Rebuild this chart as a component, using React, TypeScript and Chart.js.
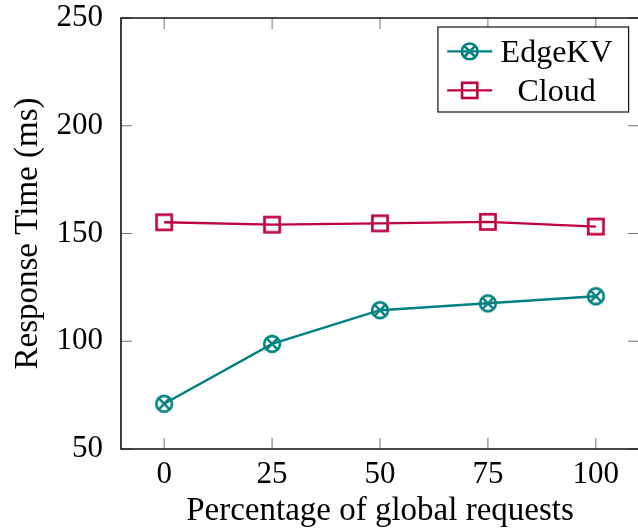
import React, { useEffect, useRef } from "react";
import { Chart, registerables } from "chart.js";

Chart.register(...registerables);

// Response time measurements (ms) against share of global requests (%)
const requestShares = [0, 25, 50, 75, 100];
const edgeKvMs = [71.0, 98.8, 114.4, 117.6, 120.9];
const cloudMs = [155.2, 154.1, 154.7, 155.4, 153.2];
const xTickValues = [0, 25, 50, 75, 100];
const yTickValues = [50, 100, 150, 200, 250];
const seriesNames = ["EdgeKV", "Cloud"];

const TEAL = "rgb(0,128,128)";
const PURPLE = "rgb(191,0,64)";
const SERIF = "'Liberation Serif', 'Times New Roman', serif";
const CANVAS_W = 660;
const CANVAS_H = 531;

type MarkerKind = "otimes" | "square";

function drawMarker(ctx: CanvasRenderingContext2D, kind: MarkerKind, x: number, y: number, color: string) {
  ctx.save();
  ctx.strokeStyle = color;
  ctx.lineWidth = 2.6;
  if (kind === "otimes") {
    const r = 7.9;
    ctx.beginPath();
    ctx.arc(x, y, r, 0, Math.PI * 2);
    ctx.stroke();
    const d = r * Math.SQRT1_2;
    ctx.beginPath();
    ctx.moveTo(x - d, y - d);
    ctx.lineTo(x + d, y + d);
    ctx.moveTo(x + d, y - d);
    ctx.lineTo(x - d, y + d);
    ctx.stroke();
  } else {
    const h = 7.6;
    ctx.strokeRect(x - h, y - h, 2 * h, 2 * h);
  }
  ctx.restore();
}

function markerImage(kind: MarkerKind, color: string): HTMLCanvasElement {
  const c = document.createElement("canvas");
  c.width = 24;
  c.height = 24;
  const ctx = c.getContext("2d")!;
  drawMarker(ctx, kind, 12, 12, color);
  return c;
}

function zeroScalePadding(s: any) {
  s.paddingLeft = 0;
  s.paddingRight = 0;
  s.paddingTop = 0;
  s.paddingBottom = 0;
}

// Axis frame (top, left, bottom) with inward-pointing tick marks
const framePlugin = {
  id: "frame",
  beforeDatasetsDraw(chart: any) {
    const { ctx, chartArea: a, scales } = chart;
    const tick = 11;
    ctx.save();
    ctx.strokeStyle = "#707070";
    ctx.lineWidth = 1;
    ctx.beginPath();
    for (const v of xTickValues) {
      const px = scales.x.getPixelForValue(v);
      ctx.moveTo(px, a.bottom);
      ctx.lineTo(px, a.bottom - tick);
      ctx.moveTo(px, a.top);
      ctx.lineTo(px, a.top + tick);
    }
    for (const v of yTickValues) {
      const py = scales.y.getPixelForValue(v);
      ctx.moveTo(a.left, py);
      ctx.lineTo(a.left + tick, py);
      ctx.moveTo(a.right, py);
      ctx.lineTo(a.right - tick, py);
    }
    ctx.stroke();
    ctx.strokeStyle = "#111";
    ctx.lineWidth = 1.6;
    ctx.beginPath();
    ctx.moveTo(a.right, a.top);
    ctx.lineTo(a.left, a.top);
    ctx.lineTo(a.left, a.bottom);
    ctx.lineTo(a.right, a.bottom);
    ctx.stroke();
    ctx.restore();
  },
};

// Boxed legend in the upper right corner of the plot
const boxLegendPlugin = {
  id: "boxLegend",
  afterDatasetsDraw(chart: any) {
    const { ctx, chartArea: a } = chart;
    const datasets = chart.data.datasets;
    const boxW = 190.7;
    const boxH = 85;
    const right = a.right - 10.4;
    const left = right - boxW;
    const top = a.top + 9;
    const rowGap = 39;
    const firstRow = top + 24.4;
    ctx.save();
    ctx.fillStyle = "#fff";
    ctx.fillRect(left, top, boxW, boxH);
    ctx.strokeStyle = "#111";
    ctx.lineWidth = 1.2;
    ctx.strokeRect(left, top, boxW, boxH);
    ctx.font = `32px ${SERIF}`;
    ctx.textBaseline = "alphabetic";
    ctx.textAlign = "center";
    const textLeft = left + 62.7;
    const widths = datasets.map((d: any) => ctx.measureText(d.label).width);
    const colW = Math.max(...widths);
    datasets.forEach((d: any, i: number) => {
      const y = firstRow + i * rowGap;
      ctx.strokeStyle = d.borderColor;
      ctx.lineWidth = d.borderWidth;
      ctx.beginPath();
      ctx.moveTo(left + 9.3, y);
      ctx.lineTo(left + 54.3, y);
      ctx.stroke();
      drawMarker(ctx, d.markerKind, left + 31.8, y, d.borderColor);
      ctx.fillStyle = "#000";
      ctx.fillText(d.label, textLeft + colW / 2, y + 11);
    });
    ctx.restore();
  },
};

export default function App() {
  const canvasRef = useRef<HTMLCanvasElement | null>(null);

  useEffect(() => {
    const canvas = canvasRef.current;
    if (!canvas) return;
    const toPoints = (ys: number[]) => requestShares.map((x, i) => ({ x, y: ys[i] }));
    const kinds: MarkerKind[] = ["otimes", "square"];
    const colors = [TEAL, PURPLE];
    const values = [edgeKvMs, cloudMs];

    const chart = new Chart(canvas, {
      type: "line",
      data: {
        datasets: seriesNames.map((name, i) => ({
          label: name,
          data: toPoints(values[i]),
          borderColor: colors[i],
          backgroundColor: colors[i],
          borderWidth: 2.4,
          pointStyle: markerImage(kinds[i], colors[i]),
          pointRadius: 9,
          tension: 0,
          fill: false,
          markerKind: kinds[i],
        })) as any,
      },
      options: {
        animation: false,
        responsive: false,
        devicePixelRatio: 1,
        layout: { padding: { left: 0, top: 18, right: CANVAS_W - 639, bottom: 0 } },
        plugins: {
          legend: { display: false },
          tooltip: { enabled: false },
        },
        scales: {
          x: {
            type: "linear",
            min: -10,
            max: 110,
            grid: { display: false },
            border: { display: false },
            afterBuildTicks: (s: any) => {
              s.ticks = xTickValues.map((v) => ({ value: v }));
            },
            afterFit: (s: any) => {
              s.height = 82;
              zeroScalePadding(s);
            },
            ticks: {
              padding: -1,
              color: "#000",
              font: { family: SERIF, size: 31 },
              callback: (v: any) => String(v),
            },
            title: {
              display: true,
              text: "Percentage of global requests",
              color: "#000",
              font: { family: SERIF, size: 33 },
              padding: { top: 0, bottom: 0 },
            },
          },
          y: {
            type: "linear",
            min: 50,
            max: 250,
            grid: { display: false },
            border: { display: false },
            afterBuildTicks: (s: any) => {
              s.ticks = yTickValues.map((v) => ({ value: v }));
            },
            afterFit: (s: any) => {
              s.width = 121;
              zeroScalePadding(s);
            },
            ticks: {
              padding: 10,
              color: "#000",
              font: { family: SERIF, size: 31 },
              callback: (v: any) => String(v),
            },
            title: {
              display: true,
              text: "Response Time (ms)",
              color: "#000",
              font: { family: SERIF, size: 33 },
              padding: { top: 9, bottom: 0 },
            },
          },
        },
      },
      plugins: [framePlugin, boxLegendPlugin],
    });
    return () => chart.destroy();
  }, []);

  return (
    <div
      style={{
        position: "absolute",
        left: 0,
        top: 0,
        width: 638,
        height: 531,
        overflow: "hidden",
        background: "#fff",
      }}
    >
      <canvas ref={canvasRef} width={CANVAS_W} height={CANVAS_H} style={{ display: "block" }} />
    </div>
  );
}
